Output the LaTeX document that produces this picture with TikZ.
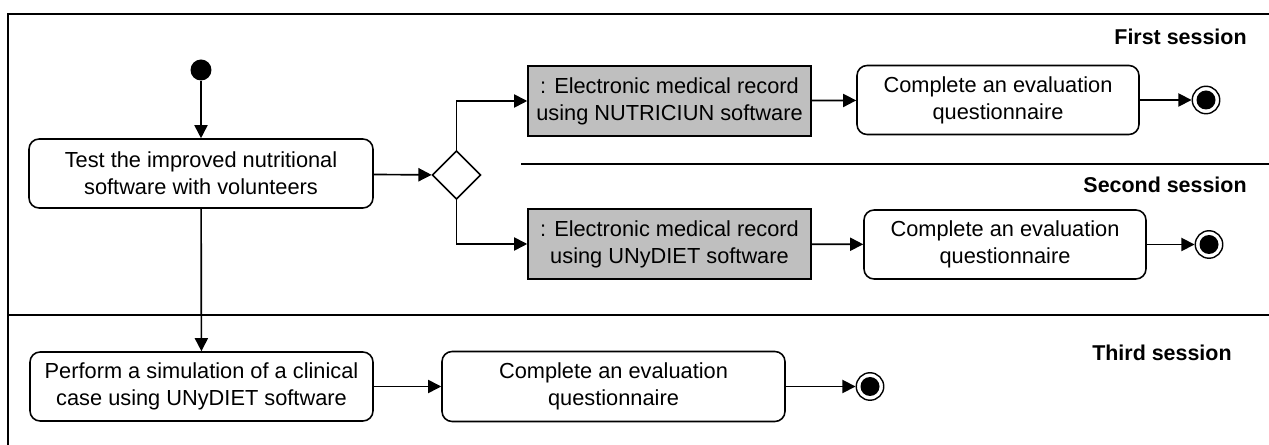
\documentclass[tikz,border=0pt]{standalone}
\usepackage{fontspec}
\setmainfont{Liberation Sans}
\usetikzlibrary{arrows.meta,shapes.geometric}
\begin{document}
\begin{tikzpicture}[x=0.02cm,y=-0.02cm,
  txt/.style={font=\fontsize{12.4}{15.3}\selectfont},
  act/.style={txt,draw,line width=0.9pt,rounded corners=0.2cm,align=center,inner sep=0pt},
  obj/.style={txt,draw,line width=0.9pt,fill=black!25,align=center,inner sep=0pt},
  flow/.style={line width=0.95pt,-{Triangle[length=7.5pt,width=7.5pt]}},
  lane/.style={line width=1.1pt},
  lbl/.style={font=\bfseries\fontsize{12.2}{15}\selectfont,anchor=base east,inner sep=0pt},
  startdot/.style={circle,fill,inner sep=0pt,minimum size=0.42cm},
  enddot/.style={circle,draw,line width=0.8pt,inner sep=0pt,minimum size=0.55cm,
    path picture={\fill (path picture bounding box.center) circle (0.19cm);}},
  decision/.style={diamond,draw,line width=0.9pt,aspect=1,inner sep=0pt,minimum size=0.97cm}
]
\useasboundingbox (0,0) rectangle (1269,445);

% swimlane lines
\draw[lane] (8,445) -- (8,14) -- (1269,14);
\draw[lane] (521,164) -- (1269,164);
\draw[lane] (8,315) -- (1269,315);

% labels
\node[lbl] (l1) at (1247,45) {First session};
\node[lbl] (l2) at (1247,193) {Second session};
\node[lbl] (l3) at (1232,361) {Third session};

% nodes
\node[startdot] (start) at (201,70) {};
\node[act,minimum width=6.88cm,minimum height=1.38cm] (test) at (201,173.5)
  {Test the improved nutritional\\software with volunteers};
\node[decision] (dec) at (456.5,175) {};
\node[obj,minimum width=5.66cm,minimum height=1.4cm] (obj1) at (669.5,101)
  {: Electronic medical record\\using NUTRICIUN software};
\node[obj,minimum width=5.66cm,minimum height=1.4cm] (obj2) at (669.5,244)
  {: Electronic medical record\\using UNyDIET software};
\node[act,minimum width=5.64cm,minimum height=1.38cm] (q1) at (998,100)
  {Complete an evaluation\\questionnaire};
\node[act,minimum width=5.64cm,minimum height=1.38cm] (q2) at (1005,244.5)
  {Complete an evaluation\\questionnaire};
\node[enddot] (end1) at (1206,100) {};
\node[enddot] (end2) at (1209,244.5) {};
\node[act,minimum width=6.86cm,minimum height=1.38cm] (sim) at (201.5,386.5)
  {Perform a simulation of a clinical\\case using UNyDIET software};
\node[act,minimum width=6.86cm,minimum height=1.4cm] (q3) at (613.5,386.5)
  {Complete an evaluation\\questionnaire};
\node[enddot] (end3) at (870,386.5) {};

% connectors
\draw[flow] (start) -- (test);
\draw[flow] (test) -- (dec);
\draw[flow] (dec.north) |- (obj1.west);
\draw[flow] (dec.south) |- (obj2.west);
\draw[flow] (obj1) -- (q1);
\draw[flow] (q1) -- (end1);
\draw[flow] (obj2) -- (q2);
\draw[flow] (q2) -- (end2);
\draw[flow] (test) -- (sim);
\draw[flow] (sim) -- (q3);
\draw[flow] (q3) -- (end3);
\end{tikzpicture}
\end{document}
